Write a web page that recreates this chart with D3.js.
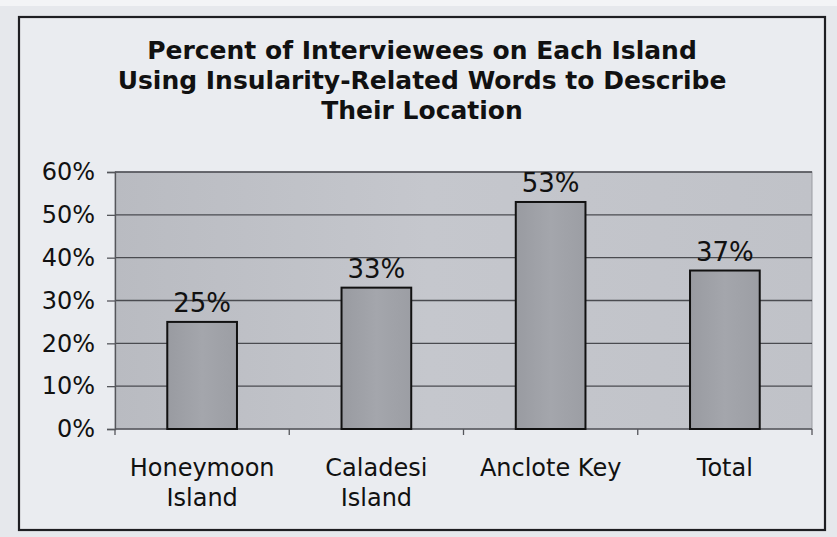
<!DOCTYPE html>
<html>
<head>
<meta charset="utf-8">
<script src="https://cdn.jsdelivr.net/npm/d3@7"></script>
<style>
  html, body { margin: 0; padding: 0; background: #e9ebef; }
  svg { display: block; }
</style>
</head>
<body>
<svg id="chart" width="837" height="537"></svg>
<script>
// Survey results: share of interviewees using insularity-related words
const categories = ["Honeymoon Island", "Caladesi Island", "Anclote Key", "Total"];
const categoryLines = [["Honeymoon", "Island"], ["Caladesi", "Island"], ["Anclote Key"], ["Total"]];
const percentValues = [25, 33, 53, 37];
const yTicks = [0, 10, 20, 30, 40, 50, 60];
const titleLines = [
  "Percent of Interviewees on Each Island",
  "Using Insularity-Related Words to Describe",
  "Their Location"
];

const FONT = "'DejaVu Sans', Verdana, sans-serif";
const svg = d3.select("#chart");
const W = 837, H = 537;
const plot = { left: 115, right: 812, top: 172, bottom: 429 };

const defs = svg.append("defs");
const bg = defs.append("linearGradient").attr("id", "plotBg").attr("x1", 0).attr("x2", 1).attr("y1", 0).attr("y2", 0);
bg.append("stop").attr("offset", "0%").attr("stop-color", "#b9bbc1");
bg.append("stop").attr("offset", "45%").attr("stop-color", "#c5c7cd");
bg.append("stop").attr("offset", "100%").attr("stop-color", "#c0c2c8");
const barG = defs.append("linearGradient").attr("id", "barFill").attr("x1", 0).attr("x2", 1).attr("y1", 0).attr("y2", 0);
barG.append("stop").attr("offset", "0%").attr("stop-color", "#999ba1");
barG.append("stop").attr("offset", "50%").attr("stop-color", "#a4a6ac");
barG.append("stop").attr("offset", "100%").attr("stop-color", "#9c9ea4");

// page and chart frame
svg.append("rect").attr("width", W).attr("height", H).attr("fill", "#e6e8ec");
svg.append("rect").attr("x", 0).attr("y", 0).attr("width", W).attr("height", 6).attr("fill", "#f3f4f6");
svg.append("rect").attr("x", 19).attr("y", 17).attr("width", 806).attr("height", 513)
  .attr("fill", "#eaecf0").attr("stroke", "#1e1e22").attr("stroke-width", 2.2);

// title
svg.append("g").selectAll("text").data(titleLines).join("text")
  .attr("x", 422).attr("y", (d, i) => 59 + i * 30)
  .attr("text-anchor", "middle")
  .attr("font-family", FONT)
  .attr("font-weight", "bold").attr("font-size", 25)
  .attr("fill", "#111")
  .text(d => d);

const x = d3.scaleBand().domain(categories).range([plot.left, plot.right]).paddingInner(0.6).paddingOuter(0.3);
const xBand = d3.scaleBand().domain(categories).range([plot.left, plot.right]);
const y = d3.scaleLinear().domain([0, 60]).range([plot.bottom, plot.top]);

// plot area
svg.append("rect").attr("x", plot.left).attr("y", plot.top)
  .attr("width", plot.right - plot.left).attr("height", plot.bottom - plot.top)
  .attr("fill", "url(#plotBg)").attr("stroke", "#9a9ca2").attr("stroke-width", 1);

// horizontal gridlines
svg.append("g").selectAll("line").data(yTicks.filter(t => t > 0)).join("line")
  .attr("x1", plot.left).attr("x2", plot.right)
  .attr("y1", d => y(d)).attr("y2", d => y(d))
  .attr("stroke", "#4a4b50").attr("stroke-width", 1.3);

// y axis
const yAxis = svg.append("g").attr("transform", `translate(${plot.left},0)`)
  .call(d3.axisLeft(y).tickValues(yTicks).tickFormat(d => d + "%").tickSize(8).tickPadding(12));
yAxis.select(".domain").attr("stroke", "#55565b").attr("stroke-width", 1.3);
yAxis.selectAll(".tick line").attr("stroke", "#55565b").attr("stroke-width", 1.3);
yAxis.selectAll("text").attr("font-family", FONT)
  .attr("font-size", 24).attr("fill", "#111");

// x axis with ticks between categories
const xAxisG = svg.append("g");
xAxisG.append("line").attr("x1", plot.left).attr("x2", plot.right)
  .attr("y1", plot.bottom).attr("y2", plot.bottom)
  .attr("stroke", "#55565b").attr("stroke-width", 1.3);
const boundaries = categories.map(c => xBand(c)).concat([xBand(categories[categories.length - 1]) + xBand.bandwidth()]);
xAxisG.selectAll("line.tk").data(boundaries).join("line").attr("class", "tk")
  .attr("x1", d => d).attr("x2", d => d)
  .attr("y1", plot.bottom).attr("y2", plot.bottom + 6)
  .attr("stroke", "#55565b").attr("stroke-width", 1.3);

// category labels
const catG = svg.append("g").selectAll("text").data(categories).join("text")
  .attr("x", d => xBand(d) + xBand.bandwidth() / 2)
  .attr("y", 476)
  .attr("text-anchor", "middle")
  .attr("font-family", FONT)
  .attr("font-size", 24).attr("fill", "#111");
catG.each(function (d, i) {
  d3.select(this).selectAll("tspan").data(categoryLines[i]).join("tspan")
    .attr("x", xBand(d) + xBand.bandwidth() / 2)
    .attr("dy", (t, j) => j === 0 ? 0 : 30)
    .text(t => t);
});

// bars
const data = categories.map((c, i) => ({ c, v: percentValues[i] }));
svg.append("g").selectAll("rect").data(data).join("rect")
  .attr("x", d => x(d.c)).attr("width", x.bandwidth())
  .attr("y", d => y(d.v)).attr("height", d => y(0) - y(d.v))
  .attr("fill", "url(#barFill)").attr("stroke", "#111").attr("stroke-width", 2);

// value labels
svg.append("g").selectAll("text").data(data).join("text")
  .attr("x", d => x(d.c) + x.bandwidth() / 2)
  .attr("y", d => y(d.v) - 10)
  .attr("text-anchor", "middle")
  .attr("font-family", FONT)
  .attr("font-size", 26).attr("fill", "#111")
  .text(d => d.v + "%");
</script>
</body>
</html>
